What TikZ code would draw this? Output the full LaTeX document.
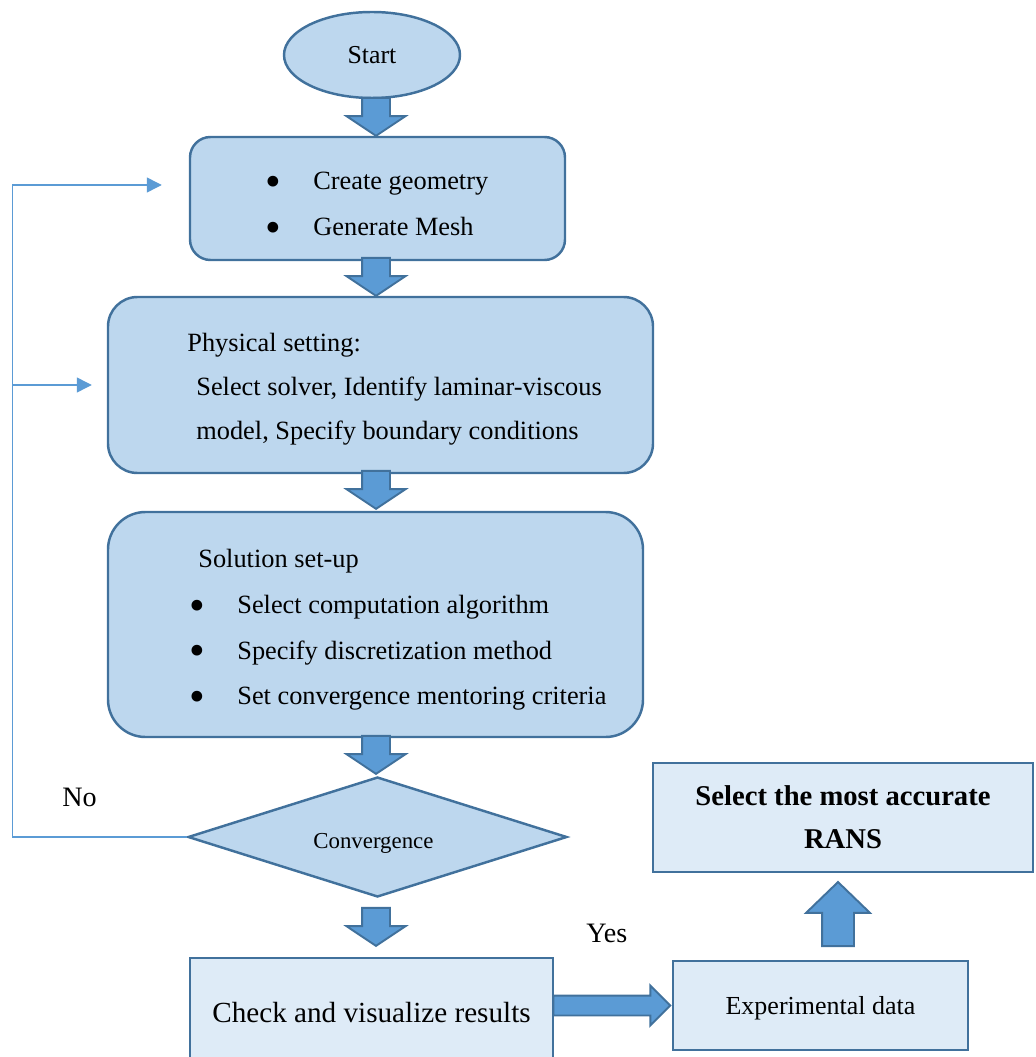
\documentclass[tikz,border=0pt]{standalone}
\usepackage{fontspec}
\setmainfont{Liberation Serif}
\usepackage{xcolor}
\usepackage{tikz}
\usetikzlibrary{shapes.geometric, shapes.arrows, arrows.meta, positioning, calc}
\definecolor{myblue}{RGB}{65,113,156}
\definecolor{mysky}{RGB}{91,155,213}
\definecolor{hdrblue}{RGB}{189,215,238}
\definecolor{hdrpale}{RGB}{222,235,247}
\newcommand{\itemdot}{\makebox[0.96cm][l]{\raisebox{-0.26em}{\scalebox{1.7}{\textbullet}}}}
\tikzset{
  stepblock/.style={rectangle, draw=myblue, fill=hdrblue, line width=1.4pt,
    inner sep=0pt, align=left, font=\fontsize{15}{26}\selectfont},
  paleblock/.style={rectangle, draw=myblue, fill=hdrpale, line width=1.5pt,
    inner sep=0pt, align=center},
  startnode/.style={ellipse, draw=myblue, fill=hdrblue, line width=1.4pt,
    minimum width=3.52cm, minimum height=1.72cm, inner sep=0pt,
    font=\fontsize{14.7}{17}\selectfont},
  decision/.style={diamond, draw=myblue, fill=hdrblue, line width=1.4pt,
    shape aspect=3.158, minimum width=7.58cm, minimum height=2.4cm, inner sep=0pt},
  txt/.style={inner sep=0pt, align=left, anchor=north west},
  fatarrow/.style={single arrow, draw=myblue, fill=mysky, line width=1.1pt,
    inner sep=0pt, single arrow head indent=0pt},
  downarrow/.style={fatarrow, rotate=-90, minimum height=0.76cm,
    inner ysep=0.26cm, single arrow head extend=0.31cm, single arrow tip angle=112.6},
  rightarrow/.style={fatarrow, minimum height=2.34cm,
    inner ysep=0.18cm, single arrow head extend=0.2cm, single arrow tip angle=90},
  uparrow/.style={fatarrow, rotate=90, minimum height=1.28cm,
    inner ysep=0.3cm, single arrow head extend=0.32cm, single arrow tip angle=92},
  fbline/.style={-{Triangle[length=0.3cm, width=0.3cm]}, color=mysky, line width=0.8pt},
  answer/.style={inner sep=0pt, anchor=base west, font=\fontsize{16}{18}\selectfont}
}

\begin{document}
\begin{tikzpicture}
  \useasboundingbox (0,0) rectangle (20.7,-21.14);

  % Draw Start and the pre-processing block
  \node[startnode] (start) at (7.44,-1.1) {Start};
  \node[downarrow, anchor=tip] (a1) at (7.52,-2.74) {};
  \node[stepblock, rounded corners=0.41cm, minimum width=7.5cm, minimum height=2.46cm]
    (geom) at (7.55,-3.97) {};
  \node[txt, font=\fontsize{15}{26}\selectfont] (geomlbl) at (5.3,-3.44)
    {\itemdot Create geometry\\ \itemdot Generate Mesh};
  \node[downarrow, anchor=tip] (a2) at (7.52,-5.94) {};

  % Physical setting block
  \node[stepblock, rounded corners=0.59cm, minimum width=10.9cm, minimum height=3.52cm]
    (phys) at (7.61,-7.70) {};
  \node[txt, font=\fontsize{15}{25}\selectfont] (physlbl) at (3.74,-6.66)
    {Physical setting:\\\hspace*{0.18cm}Select solver, Identify laminar-viscous\\\hspace*{0.18cm}model, Specify boundary conditions};
  \node[downarrow, anchor=tip] (a3) at (7.52,-10.2) {};

  % Solution set-up block
  \node[stepblock, rounded corners=0.75cm, minimum width=10.7cm, minimum height=4.5cm]
    (solve) at (7.51,-12.49) {};
  \node[txt, font=\fontsize{15}{26}\selectfont] (solvelbl) at (3.78,-10.98)
    {\hspace*{0.18cm}Solution set-up\\ \itemdot Select computation algorithm\\ \itemdot Specify discretization method\\ \itemdot Set convergence mentoring criteria};
  \node[downarrow, anchor=tip] (a4) at (7.52,-15.5) {};

  % Convergence check
  \node[decision] (conv) at (7.55,-16.74) {};
  \node[answer, font=\fontsize{13}{15}\selectfont] (convlbl) at (6.26,-16.96) {Convergence};
  \node[downarrow, anchor=tip] (a5) at (7.52,-18.94) {};

  % Results and comparison
  \node[paleblock, minimum width=7.26cm, minimum height=2.2cm, font=\fontsize{16.6}{19}\selectfont]
    (check) at (7.43,-20.26) {Check and visualize results};
  \node[paleblock, minimum width=5.9cm, minimum height=1.78cm, text depth=0pt, font=\fontsize{14.8}{17}\selectfont]
    (exp) at (16.41,-20.11) {Experimental data};
  \node[paleblock, minimum width=7.6cm, minimum height=2.18cm, font=\bfseries\fontsize{16.3}{24.5}\selectfont]
    (best) at (16.86,-16.35) {Select the most accurate\\RANS};
  \node[rightarrow, anchor=tip] (a6) at (exp.west) {};
  \node[uparrow, anchor=tail] (a7) at (16.76,-18.94) {};

  % Feedback loop
  \coordinate (fbcorner) at (0.254,-16.74);
  \coordinate (fbjoin) at (fbcorner |- phys.west);
  \draw[fbline] (conv.west) -- (fbcorner) |- ([shift={(-0.54,0.27)}]geom.west);
  \draw[fbline] (fbjoin) -- ([xshift=-0.3cm]phys.west);

  % Answers
  \node[answer] (no) at (1.24,-16.12) {No};
  \node[answer] (yes) at (11.72,-18.84) {Yes};
\end{tikzpicture}
\end{document}
